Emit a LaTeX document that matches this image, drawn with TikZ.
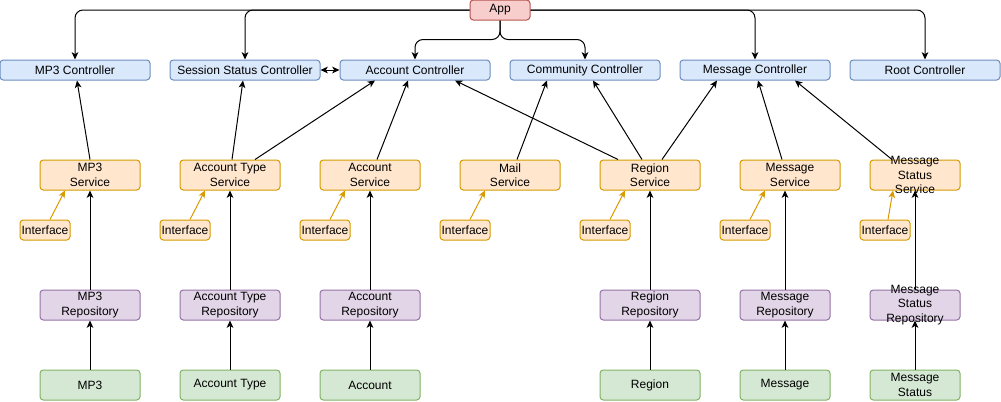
\documentclass[tikz,border=0pt]{standalone}
\usepackage{fontspec}
\setmainfont{Liberation Sans}
\usetikzlibrary{arrows.meta,calc}
\definecolor{bfill}{HTML}{DAE8FC}\definecolor{bdraw}{HTML}{6C8EBF}
\definecolor{ofill}{HTML}{FFE6CC}\definecolor{odraw}{HTML}{D79B00}
\definecolor{pfill}{HTML}{E1D5E7}\definecolor{pdraw}{HTML}{9673A6}
\definecolor{gfill}{HTML}{D5E8D4}\definecolor{gdraw}{HTML}{82B366}
\definecolor{rfill}{HTML}{F8CECC}\definecolor{rdraw}{HTML}{B85450}
\tikzset{
  box/.style={draw, line width=0.75pt, rounded corners=2.5pt, inner sep=0pt, align=center,
    font=\fontsize{9}{10.9}\selectfont},
  appbox/.style={box, fill=rfill, draw=rdraw, minimum width=45pt, minimum height=15pt},
  ctrl/.style={box, fill=bfill, draw=bdraw, minimum width=112.5pt, minimum height=15pt},
  svc/.style={box, fill=ofill, draw=odraw, minimum width=75pt, minimum height=22.5pt},
  iface/.style={box, fill=ofill, draw=odraw, minimum width=37.5pt, minimum height=15pt},
  repo/.style={box, fill=pfill, draw=pdraw, minimum width=75pt, minimum height=22.5pt},
  ent/.style={box, fill=gfill, draw=gdraw, minimum width=75pt, minimum height=22.5pt},
  arr/.style={line width=0.75pt, -{Stealth[length=5.5pt,width=5pt,inset=1.5pt]}},
  iarr/.style={arr, draw=odraw},
  treearr/.style={arr, rounded corners=6pt}
}
\begin{document}
\begin{tikzpicture}[x=0.75pt,y=-0.75pt]
\useasboundingbox[fill=white] (0,0) rectangle (1001,401);
% app
\node[appbox] (app) at (500,10) {App};
% controllers
\node[ctrl] (mp3c) at (75,70) {MP3 Controller};
\node[ctrl] (ssc) at (245,70) {Session Status Controller};
\node[ctrl] (accc) at (415,70) {Account Controller};
\node[ctrl] (comc) at (585,70) {Community Controller};
\node[ctrl] (msgc) at (755,70) {Message Controller};
\node[ctrl] (rootc) at (925,70) {Root Controller};
% services
\node[svc] (mp3s) at (90,175) {MP3\\Service};
\node[svc] (ats) at (230,175) {Account Type\\Service};
\node[svc] (accs) at (370,175) {Account\\Service};
\node[svc] (mails) at (510,175) {Mail\\Service};
\node[svc] (regs) at (650,175) {Region\\Service};
\node[svc] (msgs) at (790,175) {Message\\Service};
\node[svc, minimum width=67.5pt, label={[align=center,font=\fontsize{9}{10.9}\selectfont]center:Message\\Status\\Service}] (mss) at (915,175) {};
% interfaces
\node[iface] (if1) at (45,230) {Interface};
\node[iface] (if2) at (185,230) {Interface};
\node[iface] (if3) at (325,230) {Interface};
\node[iface] (if4) at (465,230) {Interface};
\node[iface] (if5) at (605,230) {Interface};
\node[iface] (if6) at (745,230) {Interface};
\node[iface] (if7) at (885,230) {Interface};
% repositories
\node[repo] (mp3r) at (90,305) {MP3\\Repository};
\node[repo] (atr) at (230,305) {Account Type\\Repository};
\node[repo] (accr) at (370,305) {Account\\Repository};
\node[repo] (regr) at (650,305) {Region\\Repository};
\node[repo, minimum width=67.5pt] (msgr) at (785,305) {Message\\Repository};
\node[repo, minimum width=67.5pt, label={[align=center,font=\fontsize{9}{10.9}\selectfont]center:Message\\Status\\Repository}] (msr) at (915,305) {};
% entities
\node[ent] (mp3e) at (90,385) {MP3};
\node[ent] (ate) at (230,385) {Account Type};
\node[ent] (acce) at (370,385) {Account};
\node[ent] (rege) at (650,385) {Region};
\node[ent, minimum width=67.5pt] (msge) at (785,385) {Message};
\node[ent, minimum width=67.5pt] (mse) at (915,385) {Message\\Status};
% app -> controllers
\draw[treearr] (app.west) -| (mp3c.north);
\draw[treearr] (app.west) -| (ssc.north);
\draw[treearr] (app.south) |- ($(accc.north)+(0,-20)$) -- (accc.north);
\draw[treearr] (app.south) |- ($(comc.north)+(0,-20)$) -- (comc.north);
\draw[treearr] (app.east) -| (msgc.north);
\draw[treearr] (app.east) -| (rootc.north);
\draw[line width=0.75pt, {Stealth[length=5.5pt,width=5pt,inset=1.5pt]}-{Stealth[length=5.5pt,width=5pt,inset=1.5pt]}] (ssc.east) -- (accc.west);
% services -> controllers
\draw[arr] (mp3s.north) -- ([xshift=1.5pt]mp3c.south);
\draw[arr] ([xshift=1.5pt]ats.north) -- ([xshift=-1.5pt]ssc.south);
\draw[arr] ([xshift=18.75pt]ats.north) -- ([xshift=-30pt]accc.south);
\draw[arr] ([xshift=5.25pt]accs.north) -- ([xshift=-5.25pt]accc.south);
\draw[arr] ([xshift=5.25pt]mails.north) -- ([xshift=-28.5pt]comc.south);
\draw[arr] ([xshift=-24pt]regs.north) -- ([xshift=30pt]accc.south);
\draw[arr] ([xshift=-6pt]regs.north) -- ([xshift=6pt]comc.south);
\draw[arr] ([xshift=9pt]regs.north) -- ([xshift=-28.5pt]msgc.south);
\draw[arr] ([xshift=-6pt]msgs.north) -- ([xshift=2.25pt]msgc.south);
\draw[arr] ([xshift=-17.25pt]mss.north) -- ([xshift=30pt]msgc.south);
% interfaces -> services
\foreach \i/\s in {if1/mp3s,if2/ats,if3/accs,if4/mails,if5/regs,if6/msgs}
  \draw[iarr] ([xshift=3.75pt]\i.north) -- ([xshift=-18.75pt]\s.south);
\draw[iarr] ([xshift=2.25pt]if7.north) -- ([xshift=-16.5pt]mss.south);
% repositories -> services
\foreach \r/\s in {mp3r/mp3s,atr/ats,accr/accs,regr/regs,msgr/msgs,msr/mss}
  \draw[arr] (\r.north) -- (\r.north |- \s.south);
% entities -> repositories
\foreach \e/\r in {mp3e/mp3r,ate/atr,acce/accr,rege/regr,msge/msgr,mse/msr}
  \draw[arr] (\e.north) -- (\r.south);
\end{tikzpicture}
\end{document}
